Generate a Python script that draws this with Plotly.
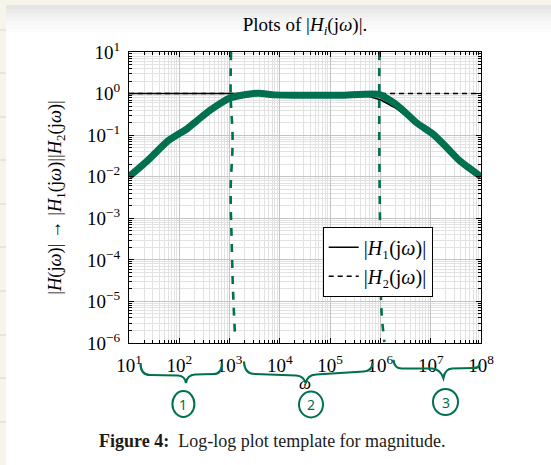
import plotly.graph_objects as go

# ---------------- data ----------------
tick_exponents_x = [1, 2, 3, 4, 5, 6, 7, 8]
tick_exponents_y = [-6, -5, -4, -3, -2, -1, 0, 1]

h1_freq = [1e1, 1e5, 5e5, 1e6, 2e6, 4e6, 1e7, 3e7, 1e8]
h1_mag = [1.0, 1.0, 0.9, 0.71, 0.45, 0.24, 0.1, 0.033, 0.01]

h2_freq = [1e1, 1e8]
h2_mag = [1.0, 1.0]

# hand-drawn green sketch over the plot
sketch_freq = [10, 24, 60, 140, 222, 440, 1020, 1740, 3700, 7900, 2e4, 1.6e5,
               9.5e5, 1.55e6, 2.45e6, 5.2e6, 1.12e7, 2.1e7, 3.8e7, 1e8]
sketch_mag = [0.01, 0.025, 0.073, 0.14, 0.22, 0.42, 0.78, 0.91, 1.02, 0.93, 0.91,
              0.91, 0.96, 0.69, 0.46, 0.2, 0.105, 0.05, 0.024, 0.01]

divider1_freq = [1070, 1050, 1150, 1050, 1100, 1170, 1290]
divider1_mag = [10, 0.93, 0.076, 0.0048, 3.0e-4, 1.9e-5, 1.3e-6]
divider2_freq = [9.5e5, 9.5e5, 1.0e6, 1.05e6, 1.2e6]
divider2_mag = [10, 0.044, 1.74e-4, 5.9e-6, 1.05e-6]

region_labels = ["1", "2", "3"]

# ---------------- layout helpers ----------------
FIG_W, FIG_H = 551, 465
L, R, T, B = 129, 481, 52, 343
PW, PH = R - L, B - T
GREEN = "#00704f"
FONT = "Liberation Serif"


def px(x):
    return (x - L) / PW


def py(y):
    return (B - y) / PH


def path(points_cmds):
    out = []
    for cmd, pts in points_cmds:
        coords = " ".join(f"{px(a):.5f},{py(b):.5f}" for a, b in pts)
        out.append(f"{cmd} {coords}")
    return " ".join(out)


fig = go.Figure()

fig.add_trace(go.Scatter(x=h1_freq, y=h1_mag, mode="lines", name="|<i>H</i>₁(j<i>ω</i>)|",
                         line=dict(color="black", width=1.6)))
fig.add_trace(go.Scatter(x=h2_freq, y=h2_mag, mode="lines", name="|<i>H</i>₂(j<i>ω</i>)|",
                         line=dict(color="black", width=1.6, dash="5px,4px")))
fig.add_trace(go.Scatter(x=sketch_freq, y=sketch_mag, mode="lines", showlegend=False,
                         line=dict(color=GREEN, width=7, shape="spline", smoothing=0.6)))
fig.add_trace(go.Scatter(x=divider1_freq, y=divider1_mag, mode="lines", showlegend=False,
                         line=dict(color=GREEN, width=2.6, dash="8px,8px", shape="spline")))
fig.add_trace(go.Scatter(x=divider2_freq, y=divider2_mag, mode="lines", showlegend=False,
                         line=dict(color=GREEN, width=2.6, dash="8px,8px", shape="spline")))

shapes = []
# page decoration: beige margin strip, top band and shadow
shapes.append(dict(type="rect", xref="paper", yref="paper", layer="below",
                   x0=px(0), x1=px(6), y0=py(0), y1=py(FIG_H),
                   fillcolor="#f7f4e9", line=dict(width=0)))
shapes.append(dict(type="rect", xref="paper", yref="paper", layer="below",
                   x0=px(0), x1=px(FIG_W), y0=py(0), y1=py(5),
                   fillcolor="#f7f4e9", line=dict(width=0)))
for i, op in enumerate([0.10, 0.08, 0.06, 0.045, 0.03, 0.018, 0.008]):
    shapes.append(dict(type="rect", xref="paper", yref="paper", layer="below",
                       x0=px(6), x1=px(FIG_W), y0=py(5 + 4 * i), y1=py(9 + 4 * i),
                       fillcolor="black", opacity=op, line=dict(width=0)))
for yy in [30, 73, 117, 160, 204, 247, 291, 335, 378, 422]:
    shapes.append(dict(type="line", xref="paper", yref="paper", layer="below",
                       x0=px(0), x1=px(6), y0=py(yy), y1=py(yy),
                       line=dict(color="#d6d6d0", width=1)))

# hand-drawn braces
brace_paths = [
    [("M", [(140.5, 363)]), ("Q", [(140.5, 375), (150, 375)]), ("L", [(178, 375.5)]),
     ("Q", [(185, 376), (186, 383)]), ("Q", [(187, 375), (195, 374.5)]), ("L", [(214, 374)]),
     ("Q", [(222, 374), (222, 363)])],
    [("M", [(244, 361.5)]), ("Q", [(244.5, 374), (255, 374)]), ("L", [(296, 375.5)]),
     ("Q", [(304, 376), (305.7, 383.6)]), ("Q", [(307, 375), (316, 374.5)]), ("L", [(364, 371.5)]),
     ("Q", [(372, 371), (372.5, 363)])],
    [("M", [(393.5, 359.7)]), ("Q", [(394, 368.5), (402, 368.5)]), ("L", [(432, 368.5)]),
     ("Q", [(440, 369), (443.4, 378)]), ("Q", [(445, 369), (452, 368.5)]), ("L", [(474, 368)]),
     ("Q", [(479, 368), (479.6, 364)])],
]
for bp in brace_paths:
    shapes.append(dict(type="path", xref="paper", yref="paper", layer="above",
                       path=path(bp), line=dict(color=GREEN, width=2.2)))

circle_centres = [(183.4, 404, 11, 13), (311, 404.5, 12, 13), (445.5, 402, 12.5, 13)]
annotations = []
for (cx, cy, rx, ry), lab in zip(circle_centres, region_labels):
    shapes.append(dict(type="circle", xref="paper", yref="paper", layer="above",
                       x0=px(cx - rx), x1=px(cx + rx), y0=py(cy + ry), y1=py(cy - ry),
                       line=dict(color=GREEN, width=2)))
    annotations.append(dict(x=px(cx), y=py(cy), xref="paper", yref="paper", showarrow=False,
                            text=lab, font=dict(family="Noto Sans", size=14, color=GREEN),
                            xanchor="center", yanchor="middle"))

annotations.append(dict(x=px(272), y=py(440.5), xref="paper", yref="paper", showarrow=False,
                        text="<b>Figure 4:</b>  Log-log plot template for magnitude.",
                        font=dict(family=FONT, size=18, color="#1a1a1a"),
                        xanchor="center", yanchor="middle"))

axis_common = dict(type="log", showline=True, linecolor="black", linewidth=1.3, mirror="allticks",
                   ticks="inside", ticklen=5, tickcolor="black", tickwidth=1,
                   showgrid=True, gridcolor="#c4c4c4", gridwidth=1, zeroline=False,
                   tickfont=dict(family=FONT, size=19, color="black"),
                   minor=dict(dtick="D1", showgrid=True, gridcolor="#e2e2e2", gridwidth=1,
                              ticks="inside", ticklen=2.5, tickcolor="black"))

fig.update_layout(
    width=FIG_W, height=FIG_H,
    margin=dict(l=L, r=FIG_W - R, t=T, b=FIG_H - B, pad=0),
    paper_bgcolor="white", plot_bgcolor="white",
    font=dict(family=FONT, size=18, color="black"),
    title=dict(text="Plots of |<i>H<sub>i</sub></i>(j<i>ω</i>)|.", x=305 / FIG_W, xanchor="center",
               y=1 - 24.6 / FIG_H, yanchor="middle", font=dict(family=FONT, size=19)),
    xaxis=dict(**axis_common, range=[1, 8], ticklabelstandoff=5,
               tickvals=[10 ** e for e in tick_exponents_x],
               ticktext=[f"10<sup>{e}</sup>".replace("-", "−") for e in tick_exponents_x],
               title=dict(text="<i>ω</i>", standoff=2, font=dict(family=FONT, size=17))),
    yaxis=dict(**axis_common, range=[-6, 1], ticklabelstandoff=4,
               tickvals=[10 ** e for e in tick_exponents_y],
               ticktext=[f"10<sup>{e}</sup>".replace("-", "−") for e in tick_exponents_y],
               title=dict(text="|<i>H</i>(j<i>ω</i>)| → |<i>H</i><sub>1</sub>(j<i>ω</i>)||<i>H</i><sub>2</sub>(j<i>ω</i>)|",
                          standoff=20, font=dict(family=FONT, size=18.5))),
    legend=dict(x=px(322.7), y=py(226.7), xanchor="left", yanchor="top",
                bgcolor="white", bordercolor="black", borderwidth=1,
                font=dict(family=FONT, size=20), tracegroupgap=0, itemwidth=30),
    shapes=shapes,
    annotations=annotations,
)

fig.write_html("out.html", config={"displayModeBar": False},
               post_script="document.body.style.margin='0';document.body.style.padding='0';"
                           "document.body.style.overflow='hidden';")
